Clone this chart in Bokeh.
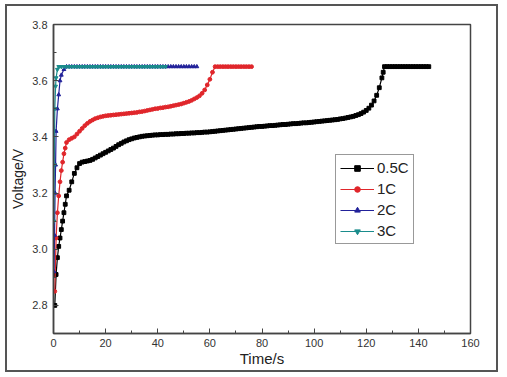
from bokeh.plotting import figure
from bokeh.models import FixedTicker, Legend, LegendItem, NumeralTickFormatter
from bokeh.embed import file_html
from bokeh.resources import INLINE

# ---- data (time in s, voltage in V) ----
t_05 = [0.5, 1, 1.5, 2, 2.5, 3, 3.5, 4, 4.5, 5, 6, 7, 8, 9, 10, 11, 12, 13, 14, 15, 16, 17, 18, 19, 20,
        21, 22, 23, 24, 25, 26, 27, 28, 29, 30, 31, 32, 33, 34, 35, 36, 37, 38, 39, 40,
        41, 42, 43, 44, 45, 46, 47, 48, 49, 50, 51, 52, 53, 54, 55, 56, 57, 58, 59, 60,
        61, 62, 63, 64, 65, 66, 67, 68, 69, 70, 71, 72, 73, 74, 75, 76, 77, 78, 79, 80,
        81, 82, 83, 84, 85, 86, 87, 88, 89, 90, 91, 92, 93, 94, 95, 96, 97, 98, 99, 100,
        101, 102, 103, 104, 105, 106, 107, 108, 109, 110, 111, 112, 113, 114, 115, 116, 117, 118, 119, 120,
        121, 122, 123, 124, 125, 126, 126.5, 127, 128, 129, 130, 131, 132, 133, 134, 135, 136, 137, 138,
        139, 140, 141, 142, 143, 144]
v_05 = [2.80, 2.91, 2.97, 3.01, 3.04, 3.07, 3.10, 3.13, 3.16, 3.19, 3.21, 3.24, 3.27, 3.29, 3.305,
        3.310, 3.312, 3.314, 3.316, 3.320, 3.325, 3.330, 3.335, 3.340, 3.345,
        3.350, 3.355, 3.360, 3.366, 3.372, 3.377, 3.382, 3.386, 3.390, 3.393,
        3.396, 3.398, 3.400, 3.402, 3.403, 3.404, 3.405, 3.406, 3.407, 3.407,
        3.408, 3.408, 3.409, 3.409, 3.410, 3.410, 3.411, 3.411, 3.412, 3.412,
        3.413, 3.413, 3.414, 3.414, 3.415, 3.415, 3.416, 3.417, 3.417, 3.418,
        3.419, 3.420, 3.421, 3.422, 3.423, 3.424, 3.425, 3.426, 3.427, 3.428,
        3.429, 3.430, 3.431, 3.432, 3.433, 3.434, 3.435, 3.436, 3.437, 3.437,
        3.438, 3.439, 3.440, 3.440, 3.441, 3.442, 3.443, 3.444, 3.444, 3.445,
        3.446, 3.447, 3.447, 3.448, 3.449, 3.450, 3.450, 3.451, 3.452, 3.453,
        3.454, 3.455, 3.456, 3.457, 3.458, 3.459, 3.460, 3.461, 3.462, 3.464,
        3.465, 3.467, 3.469, 3.471, 3.473, 3.476, 3.479, 3.483, 3.488, 3.494,
        3.502, 3.513, 3.528, 3.548, 3.575, 3.610, 3.630, 3.650, 3.650, 3.650, 3.650, 3.650, 3.650, 3.650,
        3.650, 3.650, 3.650, 3.650, 3.650, 3.650, 3.650, 3.650, 3.650, 3.650, 3.650, 3.650, 3.650]

t_1 = [0.5, 1, 1.5, 2, 2.5, 3, 3.5, 4, 4.5, 5, 6, 7, 8, 9, 10, 11, 12, 13, 14, 15, 16, 17, 18, 19, 20,
       21, 22, 23, 24, 25, 26, 27, 28, 29, 30, 31, 32, 33, 34, 35, 36, 37, 38, 39, 40,
       41, 42, 43, 44, 45, 46, 47, 48, 49, 50, 51, 52, 53, 54, 55, 56, 57, 58, 59, 60,
       61, 62, 63, 64, 65, 66, 67, 68, 69, 70, 71, 72, 73, 74, 75, 76]
v_1 = [2.85, 3.04, 3.13, 3.19, 3.24, 3.28, 3.31, 3.34, 3.36, 3.38, 3.39, 3.395, 3.40, 3.41, 3.42,
       3.430, 3.440, 3.448, 3.455, 3.460, 3.465, 3.468, 3.471, 3.473, 3.475,
       3.476, 3.477, 3.478, 3.479, 3.480, 3.481, 3.482, 3.483, 3.484, 3.485,
       3.486, 3.487, 3.489, 3.490, 3.492, 3.494, 3.496, 3.498, 3.500, 3.501,
       3.503, 3.504, 3.506, 3.507, 3.509, 3.511, 3.513, 3.515, 3.517, 3.520,
       3.523, 3.526, 3.530, 3.535, 3.540, 3.546, 3.555, 3.567, 3.585, 3.605,
       3.630, 3.650, 3.650, 3.650, 3.650, 3.650, 3.650, 3.650, 3.650, 3.650,
       3.650, 3.650, 3.650, 3.650, 3.650, 3.650]

t_2 = [0.2, 0.4, 0.6, 0.8, 1, 1.5, 2, 2.5, 3, 4, 5, 6, 7, 8, 9, 10, 11, 12, 13, 14, 15, 16, 17, 18, 19, 20,
       21, 22, 23, 24, 25, 26, 27, 28, 29, 30, 31, 32, 33, 34, 35, 36, 37, 38, 39, 40,
       41, 42, 43, 44, 45, 46, 47, 48, 49, 50, 51, 52, 53, 54, 55]
v_2 = [2.92, 3.05, 3.20, 3.30, 3.42, 3.50, 3.55, 3.60, 3.62, 3.64, 3.65,
       3.65, 3.65, 3.65, 3.65, 3.65, 3.65, 3.65, 3.65, 3.65, 3.65, 3.65, 3.65, 3.65, 3.65, 3.65,
       3.65, 3.65, 3.65, 3.65, 3.65, 3.65, 3.65, 3.65, 3.65, 3.65, 3.65, 3.65, 3.65, 3.65, 3.65,
       3.65, 3.65, 3.65, 3.65, 3.65, 3.65, 3.65, 3.65, 3.65, 3.65, 3.65, 3.65, 3.65, 3.65, 3.65,
       3.65, 3.65, 3.65, 3.65, 3.65]

t_3 = [0.1, 0.3, 0.5, 0.8, 1, 1.5, 2, 3, 4, 5, 6, 7, 8, 9, 10, 11, 12, 13, 14, 15, 16, 17, 18, 19, 20,
       21, 22, 23, 24, 25, 26, 27, 28, 29, 30, 31, 32, 33, 34, 35, 36, 37, 38, 39, 40, 41, 42, 43]
v_3 = [3.10, 3.30, 3.50, 3.58, 3.61, 3.64, 3.65, 3.65, 3.65, 3.65, 3.65, 3.65, 3.65, 3.65, 3.65,
       3.65, 3.65, 3.65, 3.65, 3.65, 3.65, 3.65, 3.65, 3.65, 3.65,
       3.65, 3.65, 3.65, 3.65, 3.65, 3.65, 3.65, 3.65, 3.65, 3.65,
       3.65, 3.65, 3.65, 3.65, 3.65, 3.65, 3.65, 3.65, 3.65, 3.65, 3.65, 3.65, 3.65]

series_names = ["0.5C", "1C", "2C", "3C"]
x_major = [0, 20, 40, 60, 80, 100, 120, 140, 160]
x_minor = [10, 30, 50, 70, 90, 110, 130, 150]
y_major = [2.8, 3.0, 3.2, 3.4, 3.6, 3.8]
y_minor = [2.7, 2.9, 3.1, 3.3, 3.5, 3.7]

FONT = "Liberation Sans"

# canvas placed inside a bordered box: canvas origin at (7, 6) in the window
p = figure(width=488, height=364, x_range=(0, 160), y_range=(2.7, 3.8),
           output_backend="svg", toolbar_location=None,
           min_border_left=45, min_border_right=26, min_border_top=18, min_border_bottom=37)
p.frame_width = 417
p.frame_height = 309
p.styles = {"margin-left": "5px", "margin-top": "4px", "border": "2px solid #555555"}
p.grid.visible = False
p.background_fill_color = "white"
p.border_fill_color = "white"
p.outline_line_color = "#444444"
p.outline_line_width = 1.5

p.xaxis.ticker = FixedTicker(ticks=x_major, minor_ticks=x_minor)
p.yaxis.ticker = FixedTicker(ticks=y_major, minor_ticks=y_minor)
p.yaxis.formatter = NumeralTickFormatter(format="0.0")
for ax in (p.xaxis[0], p.yaxis[0]):
    ax.axis_line_color = "#444444"
    ax.axis_line_width = 1.5
    ax.major_tick_in = 5
    ax.major_tick_out = 0
    ax.minor_tick_in = 3
    ax.minor_tick_out = 0
    ax.major_tick_line_color = "#444444"
    ax.minor_tick_line_color = "#444444"
    ax.major_label_text_font = FONT
    ax.major_label_text_font_size = "11px"
    ax.major_label_text_color = "#333333"
    ax.axis_label_text_font = FONT
    ax.axis_label_text_font_style = "normal"
    ax.axis_label_text_color = "#222222"
p.xaxis.axis_label = "Time/s"
p.yaxis.axis_label = "Voltage/V"
p.xaxis.axis_label_text_font_size = "15px"
p.yaxis.axis_label_text_font_size = "14px"
p.xaxis.major_label_standoff = 5
p.yaxis.major_label_standoff = 6
p.xaxis.axis_label_standoff = 0
p.yaxis.axis_label_standoff = 3

specs = [
    (t_05, v_05, "black", "square"),
    (t_1, v_1, "#e0262b", "circle"),
    (t_2, v_2, "#22229a", "triangle"),
    (t_3, v_3, "#1a8c8c", "inverted_triangle"),
]
items = []
for name, (tx, vy, col, mk) in zip(series_names, specs):
    r1 = p.line(tx, vy, line_color=col, line_width=1.2)
    r2 = p.scatter(tx, vy, marker=mk, size=3.8, fill_color=col, line_color=col)
    items.append(LegendItem(label=name, renderers=[r1, r2]))

legend = Legend(items=items, location=(282, 89))
legend.label_text_font = FONT
legend.label_text_font_size = "15px"
legend.label_text_color = "#222222"
legend.border_line_color = "#333333"
legend.border_line_width = 1.5
legend.background_fill_alpha = 1
legend.glyph_width = 34
legend.glyph_height = 14
legend.spacing = 4
legend.padding = 4
legend.margin = 0
legend.label_standoff = 3
p.add_layout(legend)

open("out.html", "w").write(file_html(p, INLINE))
